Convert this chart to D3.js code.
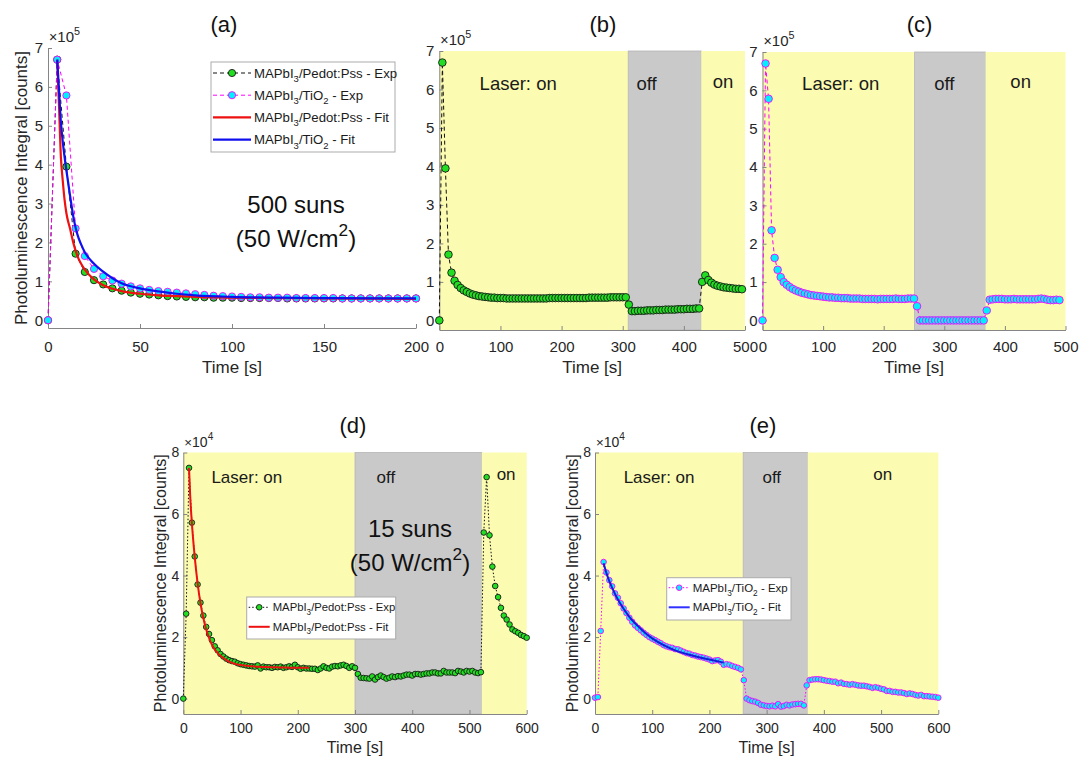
<!DOCTYPE html>
<html>
<head>
<meta charset="utf-8">
<script src="https://cdn.jsdelivr.net/npm/d3@7"></script>
<style>
  body { margin: 0; background: #fff; }
  svg { font-family: "Liberation Sans", Arial, sans-serif; }
</style>
</head>
<body>
<div id="chart"></div>
<script>
// ---- data (values in units of the axis multiplier: x10^5 for a-c, x10^4 for d-e) ----
// one sample every 5 s, starting at t = 0
const step = 5;

// (a) 500 suns, first 200 s
const pedotA = [0, 6.7, 3.95, 1.71, 1.24, 1.03, 0.92, 0.82, 0.76, 0.71,
  0.68, 0.66, 0.64, 0.62, 0.61, 0.60, 0.59, 0.59, 0.58, 0.58,
  0.58, 0.57, 0.57, 0.57, 0.57, 0.57, 0.56, 0.56, 0.56, 0.56,
  0.56, 0.56, 0.56, 0.56, 0.56, 0.56, 0.56, 0.56, 0.56, 0.56, 0.56];
const tio2A = [0, 6.7, 5.78, 2.36, 1.65, 1.32, 1.13, 1.02, 0.94, 0.87,
  0.82, 0.78, 0.75, 0.73, 0.71, 0.69, 0.67, 0.65, 0.63, 0.62,
  0.61, 0.60, 0.59, 0.59, 0.58, 0.58, 0.58, 0.57, 0.57, 0.57,
  0.57, 0.57, 0.56, 0.56, 0.56, 0.56, 0.56, 0.56, 0.56, 0.56, 0.56];
const fitTimeA = [5, 6, 7, 8, 9, 10, 12, 14, 16, 18, 20, 25, 30, 35, 40, 50, 60, 70, 80, 100, 125, 150, 200];
const pedotFitA = [6.7, 5.5, 4.2, 3.6, 3.1, 2.75, 2.35, 1.95, 1.65, 1.45, 1.3, 1.05, 0.9, 0.81, 0.75, 0.68, 0.64, 0.62, 0.6, 0.58, 0.57, 0.56, 0.55];
const tio2FitA = [6.7, 5.9, 5.1, 4.6, 4.2, 3.85, 3.2, 2.6, 2.2, 1.95, 1.75, 1.45, 1.25, 1.08, 0.95, 0.82, 0.74, 0.68, 0.64, 0.6, 0.58, 0.57, 0.56];

// (b) Pedot:Pss, laser on / off / on
const pedotB = [0, 6.7, 3.95, 1.71, 1.24, 1.03, 0.92, 0.84, 0.78, 0.74,
  0.70, 0.67, 0.65, 0.63, 0.62, 0.61, 0.60, 0.59, 0.59, 0.58,
  0.58, 0.58, 0.57, 0.57, 0.57, 0.57, 0.57, 0.57, 0.57, 0.57,
  0.57, 0.57, 0.57, 0.57, 0.57, 0.57, 0.58, 0.58, 0.58, 0.58,
  0.58, 0.58, 0.58, 0.58, 0.58, 0.58, 0.58, 0.58, 0.58, 0.59,
  0.59, 0.59, 0.59, 0.59, 0.59, 0.59, 0.60, 0.60, 0.60, 0.60,
  0.60, 0.60, 0.41, 0.24, 0.24, 0.25, 0.25, 0.25, 0.26, 0.26,
  0.26, 0.27, 0.27, 0.27, 0.28, 0.28, 0.28, 0.28, 0.29, 0.29,
  0.29, 0.30, 0.30, 0.30, 0.31, 0.31, 1.0, 1.17, 1.05, 0.98,
  0.93, 0.90, 0.88, 0.86, 0.85, 0.84, 0.83, 0.82, 0.82, 0.81];
const switchB = [309, 428.5];

// (c) TiO2, laser on / off / on
const tio2C = [0, 6.7, 5.78, 2.35, 1.63, 1.32, 1.13, 1.0, 0.93, 0.87,
  0.82, 0.78, 0.75, 0.72, 0.70, 0.68, 0.66, 0.65, 0.64, 0.63,
  0.62, 0.61, 0.60, 0.60, 0.59, 0.59, 0.58, 0.58, 0.58, 0.57,
  0.57, 0.57, 0.57, 0.56, 0.56, 0.56, 0.56, 0.56, 0.55, 0.56,
  0.56, 0.56, 0.56, 0.56, 0.57, 0.56, 0.56, 0.56, 0.57, 0.57,
  0.57, 0.37, 0, 0, 0, 0, 0, 0, 0, 0,
  0, 0, 0, 0, 0, 0, 0, 0, 0, 0,
  0, 0, 0, 0, 0.26, 0.54, 0.55, 0.56, 0.56, 0.56,
  0.55, 0.55, 0.55, 0.56, 0.55, 0.55, 0.55, 0.55, 0.55, 0.55,
  0.55, 0.56, 0.57, 0.56, 0.54, 0.53, 0.53, 0.54, 0.53];
const switchC = [251, 368];

// (d) 15 suns, Pedot:Pss
const pedotD = [0, 2.76, 7.5, 5.72, 4.62, 3.71, 3.12, 2.7, 2.33, 2.1,
  1.9, 1.7, 1.57, 1.45, 1.37, 1.3, 1.25, 1.22, 1.2, 1.15,
  1.12, 1.1, 1.08, 1.06, 1.05, 1.04, 1.08, 0.98, 1.04, 1.02,
  1.02, 1.0, 1.03, 1.02, 1.04, 1.0, 1.02, 1.05, 1.03, 1.1,
  1.02, 0.97, 1.0, 0.98, 0.98, 0.97, 0.97, 0.93, 0.98, 1.05,
  1.0, 0.98, 1.04, 1.06, 1.05, 1.08, 1.1, 1.06, 1.0, 1.05,
  1.0, 0.8, 0.68, 0.67, 0.66, 0.65, 0.72, 0.62, 0.7, 0.75,
  0.7, 0.65, 0.68, 0.72, 0.7, 0.73, 0.72, 0.75, 0.78, 0.78,
  0.75, 0.8, 0.8, 0.78, 0.8, 0.82, 0.82, 0.85, 0.85, 0.82,
  0.82, 0.9, 0.85, 0.85, 0.85, 0.83, 0.9, 0.88, 0.85, 0.9,
  0.88, 0.9, 0.85, 0.83, 0.86, 5.4, 7.2, 5.31, 4.29, 3.66,
  3.3, 2.95, 2.7, 2.57, 2.41, 2.25, 2.19, 2.14, 2.07, 2.03, 1.98];
const fitTimeD = [10, 12, 15, 18, 20, 25, 30, 35, 40, 45, 50, 60, 70, 80, 90, 100, 120, 140, 160, 180, 200, 220];
const pedotFitD = [7.5, 6.6, 5.7, 5.0, 4.6, 3.75, 3.1, 2.62, 2.25, 1.97, 1.75, 1.48, 1.32, 1.2, 1.13, 1.09, 1.05, 1.03, 1.02, 1.01, 1.0, 1.0];
const switchD = [300, 521.5];

// (e) 15 suns, TiO2
const tio2E = [0.03, 0.05, 2.2, 4.44, 4.1, 3.85, 3.65, 3.42, 3.28, 3.1,
  2.93, 2.78, 2.63, 2.5, 2.38, 2.3, 2.22, 2.14, 2.07, 2.0,
  1.95, 1.9, 1.85, 1.8, 1.74, 1.7, 1.67, 1.65, 1.61, 1.6,
  1.56, 1.52, 1.48, 1.46, 1.42, 1.4, 1.37, 1.35, 1.33, 1.3,
  1.27, 1.22, 1.24, 1.25, 1.2, 1.1, 1.12, 1.1, 1.06, 1.03,
  1.0, 0.95, 0.6, 0.0, -0.05, -0.08, -0.1, -0.14, -0.2, -0.22,
  -0.24, -0.25, -0.23, -0.25, -0.18, -0.26, -0.24, -0.2, -0.22, -0.19,
  -0.18, -0.17, -0.17, -0.22, 0.43, 0.6, 0.62, 0.63, 0.63, 0.62,
  0.6, 0.58, 0.57, 0.55, 0.55, 0.5, 0.52, 0.48, 0.47, 0.45,
  0.47, 0.45, 0.43, 0.42, 0.42, 0.4, 0.38, 0.35, 0.37, 0.35,
  0.32, 0.3, 0.25, 0.25, 0.22, 0.22, 0.2, 0.2, 0.18, 0.15,
  0.17, 0.15, 0.12, 0.1, 0.12, 0.08, 0.08, 0.07, 0.06, 0.05, 0.03];
const fitTimeE = [15, 20, 25, 30, 40, 50, 60, 70, 80, 90, 100, 120, 140, 160, 180, 200, 225];
const tio2FitE = [4.4, 4.08, 3.82, 3.6, 3.22, 2.92, 2.66, 2.45, 2.27, 2.1, 1.96, 1.74, 1.57, 1.45, 1.35, 1.27, 1.17];
const switchE = [259, 371.7];

// legend labels (text, kind)
const labPedotExp = [["MAPbI"], ["3", "sub"], ["/Pedot:Pss - Exp"]];
const labTio2Exp = [["MAPbI"], ["3", "sub"], ["/TiO"], ["2", "sub"], [" - Exp"]];
const labPedotFit = [["MAPbI"], ["3", "sub"], ["/Pedot:Pss - Fit"]];
const labTio2Fit = [["MAPbI"], ["3", "sub"], ["/TiO"], ["2", "sub"], [" - Fit"]];

// ---- styles ----
const yellowOn = "#fbfbb1";
const grayOff = "#c9c9c9";
const axisColor = "#858585";
const textColor = "#262626";
const fontFam = '"Liberation Sans", Arial, sans-serif';

const svg = d3.select("#chart").append("svg")
  .attr("width", 1081)
  .attr("height", 758);

function toPoints(values) {
  return values.map((v, i) => [i * step, v]);
}

function zip(ts, vs) {
  return ts.map((t, i) => [t, vs[i]]);
}

// text with sub/superscripts
function richText(sel, parts, size) {
  let shift = 0;
  parts.forEach((p) => {
    const kind = p[1] || "n";
    const target = kind === "sub" ? size * 0.32 : kind === "sup" ? -size * 0.45 : 0;
    sel.append("tspan")
      .attr("dy", target - shift)
      .attr("font-size", kind === "n" ? size : size * 0.72)
      .text(p[0]);
    shift = target;
  });
}

function drawPanel(p) {
  const g = svg.append("g");
  const x = d3.scaleLinear().domain(p.xDomain).range([p.box.l, p.box.r]);
  const y = d3.scaleLinear().domain(p.yDomain).range([p.box.b, p.box.t]);

  // laser on / off background bands
  if (p.switches) {
    const edges = [p.xDomain[0], ...p.switches, p.xDomain[1]];
    for (let i = 0; i < edges.length - 1; i++) {
      g.append("rect")
        .attr("x", x(edges[i]))
        .attr("y", p.box.t)
        .attr("width", x(edges[i + 1]) - x(edges[i]))
        .attr("height", p.box.b - p.box.t)
        .attr("fill", i % 2 ? grayOff : yellowOn)
        .attr("stroke", i % 2 ? "#b5b5b5" : "none")
        .attr("stroke-width", 0.8);
    }
  }

  // axes, ticks inward like matlab
  const xa = g.append("g")
    .attr("transform", `translate(0,${p.box.b})`)
    .call(d3.axisBottom(x).tickValues(p.xTicks).tickSizeInner(-4).tickSizeOuter(0).tickPadding(p.xPad));
  const ya = g.append("g")
    .attr("transform", `translate(${p.box.l},0)`)
    .call(d3.axisLeft(y).tickValues(p.yTicks).tickSizeInner(-4).tickSizeOuter(0).tickPadding(p.yPad));
  const axes = [xa, ya];
  if (p.boxOn) {
    axes.push(g.append("g")
      .attr("transform", `translate(0,${p.box.t})`)
      .call(d3.axisTop(x).tickValues(p.xTicks).tickSizeInner(-4).tickSizeOuter(0).tickFormat("")));
    axes.push(g.append("g")
      .attr("transform", `translate(${p.box.r},0)`)
      .call(d3.axisRight(y).tickValues(p.yTicks).tickSizeInner(-4).tickSizeOuter(0).tickFormat("")));
  }
  axes.forEach((a) => {
    a.attr("font-family", fontFam).attr("font-size", p.tickFont);
    a.selectAll("path, line").attr("stroke", axisColor);
    a.selectAll("text").attr("fill", textColor);
  });

  // exponent label at top left
  const ex = g.append("text")
    .attr("x", p.box.l + 1)
    .attr("y", p.box.t - 6)
    .attr("fill", textColor);
  richText(ex, [["×", "n"]], p.tickFont * 0.95);
  ex.append("tspan").attr("font-size", p.tickFont).text("10");
  ex.append("tspan").attr("font-size", p.tickFont * 0.72).attr("dy", -p.tickFont * 0.45).text(p.exp);

  // series
  p.series.forEach((s) => {
    const line = d3.line().x((d) => x(d[0])).y((d) => y(d[1]));
    if (s.curve) line.curve(d3.curveMonotoneX);
    g.append("path")
      .datum(s.points)
      .attr("fill", "none")
      .attr("stroke", s.stroke)
      .attr("stroke-width", s.width)
      .attr("stroke-dasharray", s.dash || null)
      .attr("d", line);
    if (s.marker) {
      g.selectAll(null)
        .data(s.points)
        .enter()
        .append("circle")
        .attr("cx", (d) => x(d[0]))
        .attr("cy", (d) => y(d[1]))
        .attr("r", s.marker.r)
        .attr("fill", s.marker.fill)
        .attr("stroke", s.marker.edge)
        .attr("stroke-width", 0.9);
    }
  });

  // laser labels
  (p.notes || []).forEach((n) => {
    g.append("text")
      .attr("x", x(n.t))
      .attr("y", n.y)
      .attr("text-anchor", "middle")
      .attr("font-size", p.noteFont)
      .attr("fill", "#1a1a1a")
      .text(n.text);
  });

  // panel title
  g.append("text")
    .attr("x", p.title.x)
    .attr("y", p.title.y)
    .attr("text-anchor", "middle")
    .attr("font-size", 22)
    .attr("fill", "#111")
    .text(p.name);

  // x label
  g.append("text")
    .attr("x", (p.box.l + p.box.r) / 2)
    .attr("y", p.xLabelY)
    .attr("text-anchor", "middle")
    .attr("font-size", p.labelFont)
    .attr("fill", textColor)
    .text("Time [s]");

  if (p.yLabelX) {
    g.append("text")
      .attr("transform", `translate(${p.yLabelX},${(p.box.t + p.box.b) / 2}) rotate(-90)`)
      .attr("text-anchor", "middle")
      .attr("font-size", p.labelFont)
      .attr("fill", textColor)
      .text("Photoluminescence Integral [counts]");
  }
  return { x, y };
}

function drawLegend(L) {
  const g = svg.append("g");
  g.append("rect")
    .attr("x", L.x).attr("y", L.y)
    .attr("width", L.w).attr("height", L.h)
    .attr("fill", "#fff")
    .attr("stroke", "#ababab")
    .attr("stroke-width", 1);
  L.entries.forEach((e, i) => {
    const cy = L.y + L.first + i * L.gap;
    g.append("line")
      .attr("x1", L.x + 2).attr("x2", L.x + 2 + L.line)
      .attr("y1", cy).attr("y2", cy)
      .attr("stroke", e.stroke)
      .attr("stroke-width", e.width)
      .attr("stroke-dasharray", e.dash || null);
    if (e.marker) {
      g.append("circle")
        .attr("cx", L.x + 2 + L.line / 2).attr("cy", cy)
        .attr("r", e.marker.r)
        .attr("fill", e.marker.fill)
        .attr("stroke", e.marker.edge)
        .attr("stroke-width", 0.9);
    }
    const t = g.append("text")
      .attr("x", L.x + L.line + 5)
      .attr("y", cy + L.font * 0.36)
      .attr("fill", "#1a1a1a");
    richText(t, e.label, L.font);
  });
}

function annotate(cx, y1, y2, big, size) {
  svg.append("text")
    .attr("x", cx).attr("y", y1)
    .attr("text-anchor", "middle")
    .attr("font-size", size)
    .attr("fill", "#111")
    .text(big);
  const t = svg.append("text")
    .attr("x", cx).attr("y", y2)
    .attr("text-anchor", "middle")
    .attr("fill", "#111");
  richText(t, [["(50 W/cm"], ["2", "sup"], [")"]], size);
}

// series styles
const greenMark = (r) => ({ r, fill: "#22dd22", edge: "#1a1a1a" });
const cyanMark = (r) => ({ r, fill: "#00f0ff", edge: "#ff00ff" });

const ticks7 = [0, 1, 2, 3, 4, 5, 6, 7];
const ticks8 = [0, 2, 4, 6, 8];
const ticks500 = [0, 100, 200, 300, 400, 500];
const ticks600 = [0, 100, 200, 300, 400, 500, 600];

// (a)
drawPanel({
  name: "(a)", title: { x: 224, y: 32 },
  box: { l: 48, t: 48, r: 416, b: 328 },
  xDomain: [0, 200], yDomain: [-0.2, 7],
  xTicks: [0, 50, 100, 150, 200], yTicks: ticks7,
  xPad: 13, yPad: 5, tickFont: 15, labelFont: 17, exp: "5",
  xLabelY: 373, yLabelX: 27,
  series: [
    { points: toPoints(pedotA), stroke: "#111", width: 1, dash: "4,3", marker: greenMark(3.6) },
    { points: toPoints(tio2A), stroke: "#ff00ff", width: 1, dash: "4,3", marker: cyanMark(3.6) },
    { points: zip(fitTimeA, pedotFitA), stroke: "#ee1111", width: 2.2, curve: true },
    { points: zip(fitTimeA, tio2FitA), stroke: "#1010ee", width: 2.2, curve: true }
  ]
});

drawLegend({
  x: 211, y: 62, w: 184, h: 90, first: 11, gap: 22.2, line: 38, font: 13.2,
  entries: [
    { label: labPedotExp, stroke: "#111", width: 1, dash: "4,3", marker: greenMark(3.6) },
    { label: labTio2Exp, stroke: "#ff00ff", width: 1, dash: "4,3", marker: cyanMark(3.6) },
    { label: labPedotFit, stroke: "#ee1111", width: 2.2 },
    { label: labTio2Fit, stroke: "#1010ee", width: 2.2 }
  ]
});
annotate(296, 213, 247, "500 suns", 24);

// (b)
drawPanel({
  name: "(b)", title: { x: 603, y: 32 },
  box: { l: 439.3, t: 51, r: 745, b: 330 },
  xDomain: [0, 500], yDomain: [-0.25, 7],
  xTicks: ticks500, yTicks: ticks7, switches: switchB,
  xPad: 11, yPad: 5, tickFont: 15, labelFont: 17, exp: "5",
  xLabelY: 373, noteFont: 18.5,
  notes: [
    { text: "Laser: on", t: 129, y: 90 },
    { text: "off", t: 339, y: 90 },
    { text: "on", t: 464, y: 88 }
  ],
  series: [
    { points: toPoints(pedotB), stroke: "#111", width: 1, dash: "4,3", marker: greenMark(3.8) }
  ]
});

// (c)
drawPanel({
  name: "(c)", title: { x: 919.5, y: 32 },
  box: { l: 762.5, t: 52, r: 1065.5, b: 330 },
  xDomain: [0, 500], yDomain: [-0.25, 7],
  xTicks: ticks500, yTicks: ticks7, switches: switchC,
  xPad: 11, yPad: 5, tickFont: 15, labelFont: 17, exp: "5",
  xLabelY: 373, noteFont: 18.5,
  notes: [
    { text: "Laser: on", t: 129, y: 90 },
    { text: "off", t: 300, y: 90 },
    { text: "on", t: 426, y: 88 }
  ],
  series: [
    { points: toPoints(tio2C), stroke: "#ff00ff", width: 1, dash: "4,3", marker: cyanMark(3.8) }
  ]
});

// (d)
drawPanel({
  name: "(d)", title: { x: 353, y: 433 },
  box: { l: 183.3, t: 452.5, r: 526.7, b: 714 },
  xDomain: [0, 600], yDomain: [-0.5, 8],
  xTicks: ticks600, yTicks: ticks8, switches: switchD,
  xPad: 9, yPad: 4, tickFont: 14, labelFont: 16, exp: "4",
  xLabelY: 753, yLabelX: 166, noteFont: 17,
  notes: [
    { text: "Laser: on", t: 111, y: 483 },
    { text: "off", t: 354, y: 483 },
    { text: "on", t: 564, y: 480 }
  ],
  series: [
    { points: toPoints(pedotD), stroke: "#111", width: 1, dash: "1.5,2", marker: greenMark(2.8) },
    { points: zip(fitTimeD, pedotFitD), stroke: "#ee1111", width: 2, curve: true }
  ]
});
drawLegend({
  x: 246.7, y: 597, w: 149, h: 42, first: 10.3, gap: 19.5, line: 21, font: 11.3,
  entries: [
    { label: labPedotExp, stroke: "#111", width: 1, dash: "1.5,2", marker: greenMark(2.8) },
    { label: labPedotFit, stroke: "#ee1111", width: 2 }
  ]
});
annotate(410, 537, 571, "15 suns", 24);

// (e)
drawPanel({
  name: "(e)", title: { x: 763, y: 433 },
  box: { l: 595, t: 452.5, r: 938.3, b: 714 },
  xDomain: [0, 600], yDomain: [-0.5, 8],
  xTicks: ticks600, yTicks: ticks8, switches: switchE,
  xPad: 9, yPad: 4, tickFont: 14, labelFont: 16, exp: "4",
  xLabelY: 753, yLabelX: 578, noteFont: 17,
  notes: [
    { text: "Laser: on", t: 112, y: 483 },
    { text: "off", t: 309, y: 483 },
    { text: "on", t: 503, y: 480 }
  ],
  series: [
    { points: toPoints(tio2E), stroke: "#ff00ff", width: 1, dash: "1.5,2", marker: cyanMark(2.8) },
    { points: zip(fitTimeE, tio2FitE), stroke: "#1818d8", width: 2, curve: true }
  ]
});
drawLegend({
  x: 666.7, y: 577.7, w: 124.3, h: 42.3, first: 10, gap: 19.6, line: 21, font: 11.5,
  entries: [
    { label: labTio2Exp, stroke: "#ff00ff", width: 1, dash: "1.5,2", marker: cyanMark(2.8) },
    { label: labTio2Fit, stroke: "#3030ff", width: 2 }
  ]
});
</script>
</body>
</html>
